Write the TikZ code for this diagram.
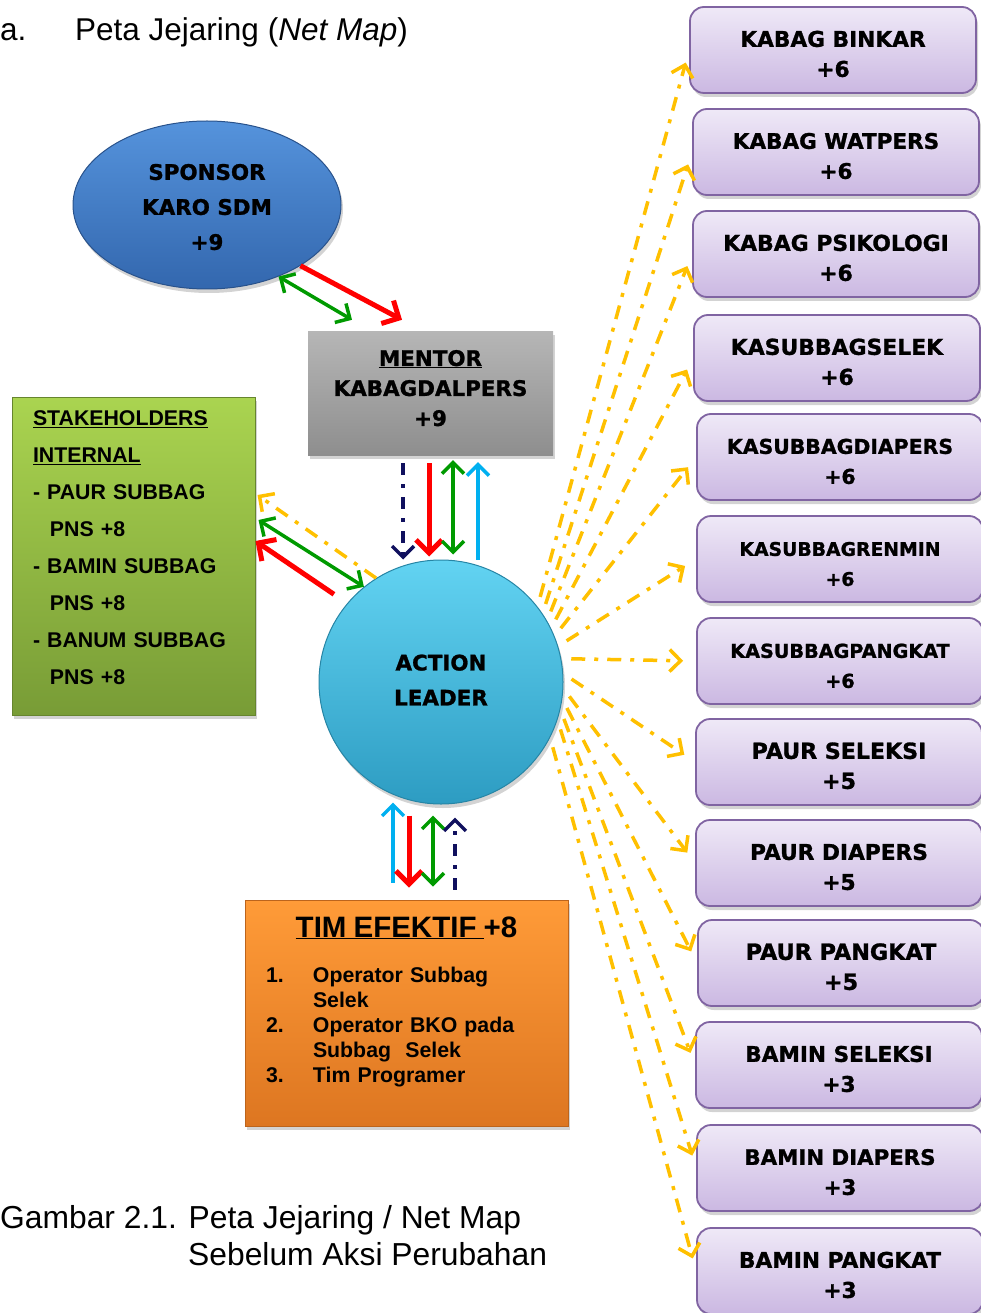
\documentclass[tikz,border=0pt]{standalone}
\usepackage{fontspec}
\setmainfont{Liberation Sans}
\newfontfamily\tebal{DejaVu Sans}[BoldFeatures={FakeBold=1.2}]
\usetikzlibrary{arrows.meta,shapes.geometric,shadows}
\definecolor{kuningp}{HTML}{FFC000}
\definecolor{merahp}{HTML}{FF0000}
\definecolor{hijaup}{HTML}{009A00}
\definecolor{birup}{HTML}{00B0F0}
\definecolor{gelapp}{HTML}{10105E}
\definecolor{ungu}{HTML}{8064A2}
\definecolor{unguA}{HTML}{EFE9F7}
\definecolor{unguB}{HTML}{CBB8E2}
\definecolor{sponA}{HTML}{5593DC}
\definecolor{sponB}{HTML}{3367AE}
\definecolor{abuA}{HTML}{B6B6B6}
\definecolor{abuB}{HTML}{8E8E8E}
\definecolor{daunA}{HTML}{AAD450}
\definecolor{daunB}{HTML}{789C36}
\definecolor{langitA}{HTML}{62D3F2}
\definecolor{langitB}{HTML}{2D9CC2}
\definecolor{jerukA}{HTML}{FF9B38}
\definecolor{jerukB}{HTML}{DD7621}
\tikzset{
	bayang/.style={drop shadow={opacity=.35,shadow xshift=2pt,shadow yshift=-4pt}},
	kotak/.style={rectangle,rounded corners=14pt,draw=ungu,line width=1.8pt,top color=unguA,bottom color=unguB,minimum width=286pt,minimum height=86pt,inner sep=0pt,align=center,bayang},
	huruf/.style={font=\tebal\bfseries\fontsize{21.4}{#1}\selectfont},
	panah/.style={line width=3.5pt,-{Straight Barb[length=11pt,width=22pt]}},
	merah/.style={panah,draw=merahp,line width=5pt,-{Straight Barb[length=13pt,width=26pt]}},
	hijau/.style={panah,draw=hijaup,{Straight Barb[length=11pt,width=22pt]}-{Straight Barb[length=11pt,width=22pt]}},
	biru/.style={panah,draw=birup},
	gelap/.style={panah,draw=gelapp,dash pattern=on 12pt off 9pt on 4pt off 9pt},
	kuning/.style={panah,draw=kuningp,dash pattern=on 14pt off 9pt on 4pt off 9pt,shorten <=10pt,shorten >=13pt}
}
\begin{document}
\begin{tikzpicture}[x=1pt,y=-1pt]%PETA JEJARING
			\useasboundingbox (0,0) rectangle (981,1313);
			\node[anchor=base west,inner sep=0pt,font=\fontsize{31.5}{36}\selectfont] (hurufa) at (0,41) {a.};
			\node[anchor=base west,inner sep=0pt,font=\fontsize{31.5}{36}\selectfont] (judul) at (75,41) {Peta Jejaring (\textit{Net Map})};
			\node[ellipse,minimum width=268pt,minimum height=168pt,inner sep=0pt,top color=sponA,bottom color=sponB,draw=sponB!80!black,line width=1pt,align=center,huruf=35,bayang] (sponsor) at (207,205) {\rule{0pt}{20pt}SPONSOR\\KARO SDM\\+9};
			\node[rectangle,minimum width=245pt,minimum height=124pt,inner sep=0pt,top color=abuA,bottom color=abuB,align=center,huruf=30,bayang] (mentor) at (430.5,393) {\underline{MENTOR}\\KABAGDALPERS\\+9\rule[-10pt]{0pt}{0pt}};
			\node[rectangle,minimum width=243pt,minimum height=318pt,inner xsep=21pt,text width=201pt,top color=daunA,bottom color=daunB,draw=daunB!85!black,line width=1pt,align=left,font=\bfseries\fontsize{21.3}{37}\selectfont,bayang] (stake) at (133.5,556) {\underline{STAKEHOLDERS}\\\underline{INTERNAL}\\- PAUR SUBBAG\\\hspace*{17pt}PNS +8\\- BAMIN SUBBAG\\\hspace*{17pt}PNS +8\\- BANUM SUBBAG\\\hspace*{17pt}PNS +8\rule[-16pt]{0pt}{0pt}};
			\node[circle,minimum size=244pt,inner sep=0pt,top color=langitA,bottom color=langitB,draw=langitB!85!black,line width=1pt,align=center,huruf=35,bayang] (action) at (441,682) {ACTION\\LEADER\rule[-4pt]{0pt}{0pt}};
			\node[rectangle,minimum width=323pt,minimum height=226pt,inner xsep=21pt,text width=281pt,top color=jerukA,bottom color=jerukB,draw=jerukB!85!black,line width=1pt,align=left,font=\bfseries\fontsize{21.3}{25}\selectfont,bayang] (tim) at (406.5,1013) {{\centering\fontsize{29.5}{34}\selectfont\underline{TIM EFEKTIF\ }+8\par}\vspace{20pt}\begin{tabular}[t]{@{}p{47pt}@{}l@{}}1. & Operator Subbag\\ & Selek\\2. & Operator BKO pada\\ & Subbag\ \ Selek\\3. & Tim Programer\\[20pt]\end{tabular}};
			\node[anchor=base west,inner sep=0pt,font=\fontsize{31.8}{37}\selectfont] (ket1) at (0,1228) {Gambar 2.1. Peta Jejaring / Net Map};
			\node[anchor=base west,inner sep=0pt,font=\fontsize{31.8}{37}\selectfont] (ket2) at (188,1265) {Sebelum Aksi Perubahan};
			\draw[merah] (sponsor.-33) -- ([xshift=-28.5pt,yshift=11pt]mentor.north);
			\draw[hijau] (sponsor.-45) -- ([xshift=-78.5pt,yshift=11pt]mentor.north);
			\draw[gelap] ([xshift=-27.5pt,yshift=-8pt]mentor.south) -- ([xshift=-38pt]action.north);
			\draw[merah] ([xshift=-1.5pt,yshift=-8pt]mentor.south) -- ([xshift=-12pt,yshift=3pt]action.north);
			\draw[hijau] ([xshift=22.5pt,yshift=-5pt]mentor.south) -- ([xshift=12pt,yshift=5pt]action.north);
			\draw[biru] ([xshift=37pt]action.north) -- ([xshift=47.5pt,yshift=-7pt]mentor.south);
			\draw[kuning,shorten <=0pt,shorten >=0pt] (action.122) -- ([xshift=2pt,yshift=61pt]stake.east);
			\draw[hijau] (action.129) -- ([xshift=3pt,yshift=36pt]stake.east);
			\draw[merah,shorten <=16pt] (action.140) -- ([yshift=15pt]stake.east);
			\draw[biru] ([xshift=-13.5pt,yshift=17pt]tim.north) -- ([xshift=-48pt,yshift=2pt]action.south);
			\draw[merah] ([xshift=-32pt,yshift=-11pt]action.south) -- ([xshift=2.5pt,yshift=12pt]tim.north);
			\draw[hijau] ([xshift=-8pt,yshift=-11pt]action.south) -- ([xshift=26.5pt,yshift=13pt]tim.north);
			\draw[gelap] ([xshift=48.5pt,yshift=10pt]tim.north) -- ([xshift=14pt,yshift=-13pt]action.south);
			\foreach \i/\y/\x/\teks/\nilai/\uk/\sd in {1/50/833/KABAG BINKAR/+6/21.7/38,2/152/836/KABAG WATPERS/+6/21.5/34,3/254/836/KABAG PSIKOLOGI/+6/21.9/30,4/358/837/KASUBBAGSELEK/+6/21.9/26,5/457/840/KASUBBAGDIAPERS/+6/20.4/22,6/559/840/KASUBBAGRENMIN/+6/18.8/17,7/661/840/KASUBBAGPANGKAT/+6/19.2/11,8/762/839/PAUR SELEKSI/+5/22.1/4,9/863/839/PAUR DIAPERS/+5/21.7/-3,10/963/841/PAUR PANGKAT/+5/22.3/-8,11/1065/839/BAMIN SELEKSI/+3/21.6/-13,12/1168/840/BAMIN DIAPERS/+3/21.3/-18,13/1271/840/BAMIN PANGKAT/+3/21.7/-27}
			{
			\node[kotak,font=\tebal\bfseries\fontsize{\uk}{30}\selectfont] (k\i) at (\x,\y) {\rule{0pt}{24pt}\teks\\\nilai};
			\draw[kuning] (action.\sd) -- (k\i.west);
			}
\end{tikzpicture}
\end{document}
